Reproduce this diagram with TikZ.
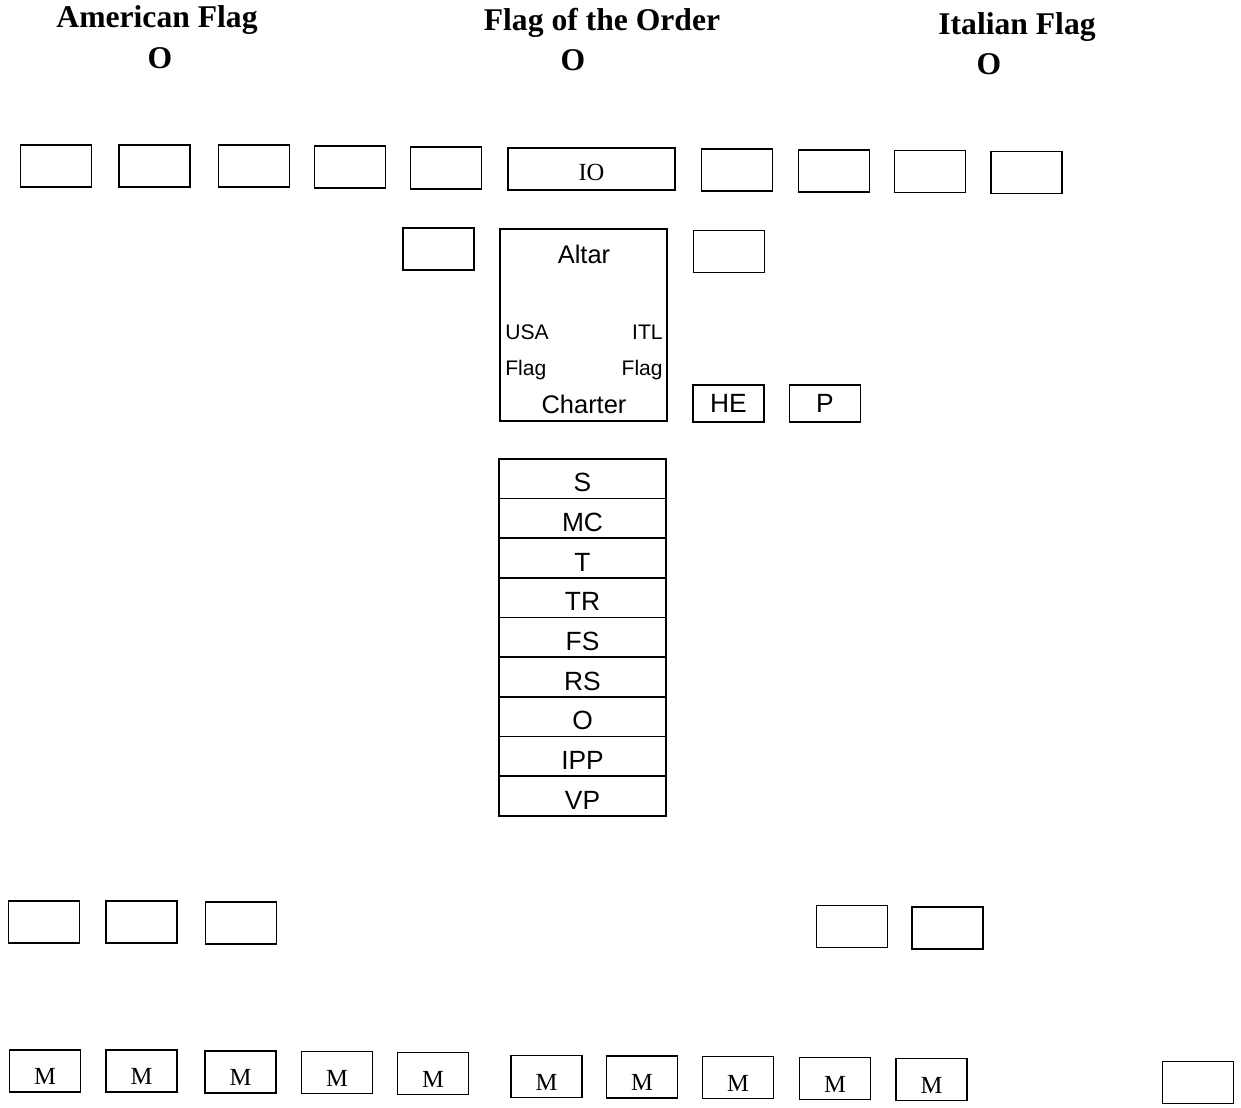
\documentclass[tikz,border=0pt]{standalone}
\usepackage{fontspec}
\setmainfont{Liberation Serif}
\setsansfont{Liberation Sans}
\usetikzlibrary{positioning}

\tikzset{
  seat/.style={draw, line width=1pt, minimum width=1.42cm, minimum height=0.84cm, inner sep=0pt, font=\fontsize{14}{16}\selectfont},
  smallseat/.style={seat, minimum height=0.74cm, font=\sffamily\fontsize{15}{17}\selectfont},
  officer/.style={draw, line width=0.9pt, minimum width=3.34cm, minimum height=0.793cm, inner sep=0pt, outer sep=0pt, text height=0.53cm, font=\sffamily\fontsize{15}{17}\selectfont},
  flagtitle/.style={font=\bfseries\fontsize{18}{20}\selectfont, inner sep=0pt},
  altartext/.style={font=\sffamily\fontsize{12}{14}\selectfont, inner sep=0pt},
}

\begin{document}
\begin{tikzpicture}[x=0.02cm, y=-0.02cm]
    \useasboundingbox (0,0) rectangle (1241,1107);

    % Flags
    \node[flagtitle] (amflag) at (157,20) {American Flag};
    \node[flagtitle] (amo) at (160,58) {O};
    \node[flagtitle] (orderflag) at (602,23) {Flag of the Order};
    \node[flagtitle] (ordero) at (573,60) {O};
    \node[flagtitle] (itflag) at (1017,27) {Italian Flag};
    \node[flagtitle] (ito) at (989,64) {O};

    % Head row
    \node[seat] (h1) at (56,166) {};
    \node[seat] (h2) at (154.5,166) {};
    \node[seat] (h3) at (254,166) {};
    \node[seat] (h4) at (350,167) {};
    \node[seat] (h5) at (446,168) {};
    \node[seat, minimum width=3.34cm, text height=0.46cm] (io) at (591.5,169) {IO};
    \node[seat] (h7) at (737,170) {};
    \node[seat] (h8) at (834,171) {};
    \node[seat] (h9) at (930,171.5) {};
    \node[seat] (h10) at (1026.5,172.5) {};

    % Altar
    \node[draw, line width=0.9pt, minimum width=3.34cm, minimum height=3.84cm, inner sep=0pt] (altar) at (583.5,325) {};
    \node[altartext, font=\sffamily\fontsize{14.5}{16}\selectfont] (altarname) at (584,254) {Altar};
    \node[altartext, anchor=west] (usa) at (505,332) {USA};
    \node[altartext, anchor=east] (itl) at (663,332) {ITL};
    \node[altartext, anchor=west] (usaflag) at (505,370) {Flag};
    \node[altartext, anchor=east] (itlflag) at (663,370) {Flag};
    \node[altartext, font=\sffamily\fontsize{14.5}{16}\selectfont] (charter) at (584,404) {Charter};

    \node[seat] (a1) at (438.5,249) {};
    \node[seat] (a2) at (729,251.5) {};
    \node[smallseat] (he) at (728.5,403.5) {HE};
    \node[smallseat] (p) at (825,403.5) {P};

    % Officers
    \node[officer] (s) at (582.5,478.8) {S};
    \node[officer, below=0pt of s] (mc) {MC};
    \node[officer, below=0pt of mc] (t) {T};
    \node[officer, below=0pt of t] (tr) {TR};
    \node[officer, below=0pt of tr] (fs) {FS};
    \node[officer, below=0pt of fs] (rs) {RS};
    \node[officer, below=0pt of rs] (o) {O};
    \node[officer, below=0pt of o] (ipp) {IPP};
    \node[officer, below=0pt of ipp] (vp) {VP};

    % Side rows
    \node[seat] (b1) at (44,922) {};
    \node[seat] (b2) at (141.5,922) {};
    \node[seat] (b3) at (241,923) {};
    \node[seat] (b4) at (852,926.5) {};
    \node[seat] (b5) at (947.5,928) {};

    % Members
    \foreach \x/\y [count=\n] in {45/1071, 141.5/1071, 240.5/1072, 337/1072.5, 433/1073.5,
        546.5/1076.5, 642/1077, 738/1077.5, 835/1078.5, 931.5/1079.5}
        \node[seat, text height=0.55cm] (m\n) at (\x,\y) {M};
    \node[seat] (m11) at (1198,1082.5) {};
\end{tikzpicture}
\end{document}
